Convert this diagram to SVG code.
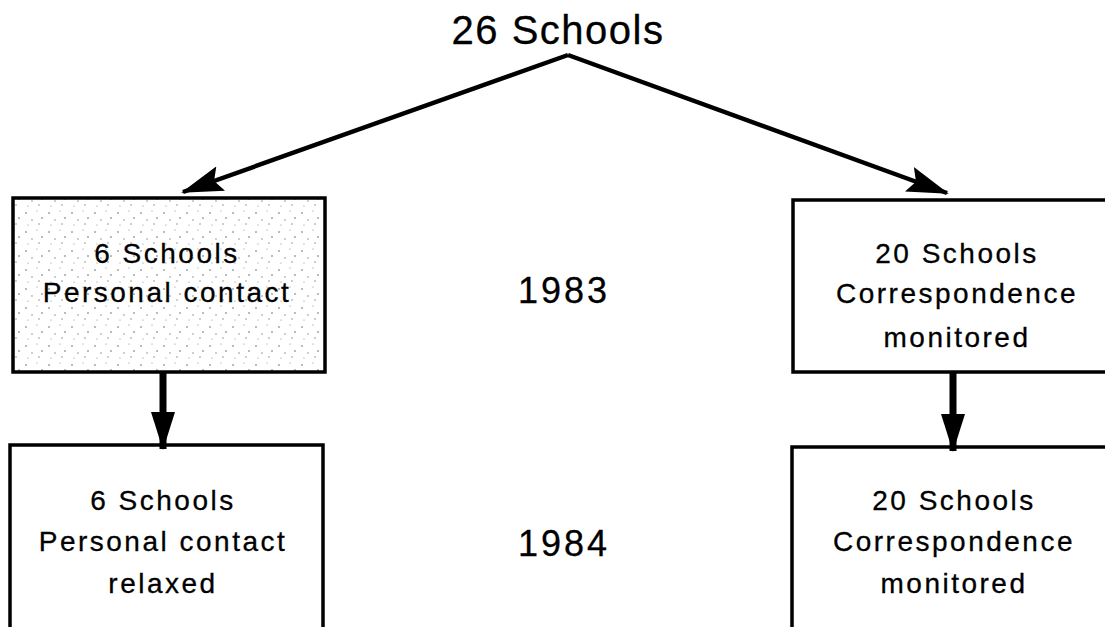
<svg xmlns="http://www.w3.org/2000/svg" width="1105" height="627" viewBox="0 0 1105 627">
<style>
.t{font-family:"Liberation Sans",Arial,sans-serif;fill:#000;text-anchor:middle;stroke:#000;stroke-width:0.3}
.title{font-size:40px;letter-spacing:1.5px}
.year{font-size:36px;letter-spacing:3px}
.lbl{font-size:28px;letter-spacing:2.5px}
.box{stroke:#000;stroke-width:3.5;fill:#fff}
.conn{stroke:#000;stroke-width:4.5;fill:none}
.thick{stroke-width:7}
</style>
<defs>
<pattern id="stip" width="23" height="19" patternUnits="userSpaceOnUse">
<rect width="23" height="19" fill="#fff"/>
<circle cx="3" cy="4" r="0.8" fill="#666"/>
<circle cx="14" cy="2" r="0.6" fill="#888"/>
<circle cx="9" cy="11" r="0.7" fill="#777"/>
<circle cx="19" cy="9" r="0.8" fill="#666"/>
<circle cx="5" cy="16" r="0.6" fill="#888"/>
<circle cx="16" cy="15" r="0.7" fill="#777"/>
</pattern>
<marker id="ah" viewBox="0 0 42 26" refX="40" refY="13" markerWidth="42" markerHeight="26" markerUnits="userSpaceOnUse" orient="auto" preserveAspectRatio="none">
<path d="M0,0 L42,13 L0,26 L7,13 Z" fill="#000"/>
</marker>
<marker id="ahv" viewBox="0 0 38 24" refX="37" refY="12" markerWidth="38" markerHeight="24" markerUnits="userSpaceOnUse" orient="auto" preserveAspectRatio="none">
<path d="M0,0 L38,12 L0,24 Z" fill="#000"/>
</marker>
</defs>
<g id="root">
<text class="t title" x="558" y="44">26 Schools</text>
</g>
<g id="year1983"><text class="t year" x="564" y="303">1983</text></g>
<g id="year1984"><text class="t year" x="564" y="556">1984</text></g>
<g id="box-1983-personal">
<rect class="box" x="13" y="198" width="312" height="174" style="fill:url(#stip)"/>
<text class="t lbl" x="167" y="263">6 Schools</text>
<text class="t lbl" x="167" y="302">Personal contact</text>
</g>
<g id="box-1983-corr">
<rect class="box" x="793" y="200" width="330" height="172"/>
<text class="t lbl" x="957" y="263">20 Schools</text>
<text class="t lbl" x="957" y="303">Correspondence</text>
<text class="t lbl" x="957" y="347">monitored</text>
</g>
<g id="box-1984-personal">
<rect class="box" x="10" y="445" width="313" height="200"/>
<text class="t lbl" x="163" y="510">6 Schools</text>
<text class="t lbl" x="163" y="551">Personal contact</text>
<text class="t lbl" x="163" y="593">relaxed</text>
</g>
<g id="box-1984-corr">
<rect class="box" x="792" y="447" width="330" height="200"/>
<text class="t lbl" x="954" y="510">20 Schools</text>
<text class="t lbl" x="954" y="551">Correspondence</text>
<text class="t lbl" x="954" y="593">monitored</text>
</g>
<g id="connectors">
<line class="conn" x1="568" y1="55" x2="183" y2="192" marker-end="url(#ah)"/>
<line class="conn" x1="568" y1="55" x2="947" y2="193" marker-end="url(#ah)"/>
<line class="conn thick" x1="163" y1="372" x2="163" y2="449" marker-end="url(#ahv)"/>
<line class="conn thick" x1="953" y1="372" x2="953" y2="451" marker-end="url(#ahv)"/>
</g>
</svg>
